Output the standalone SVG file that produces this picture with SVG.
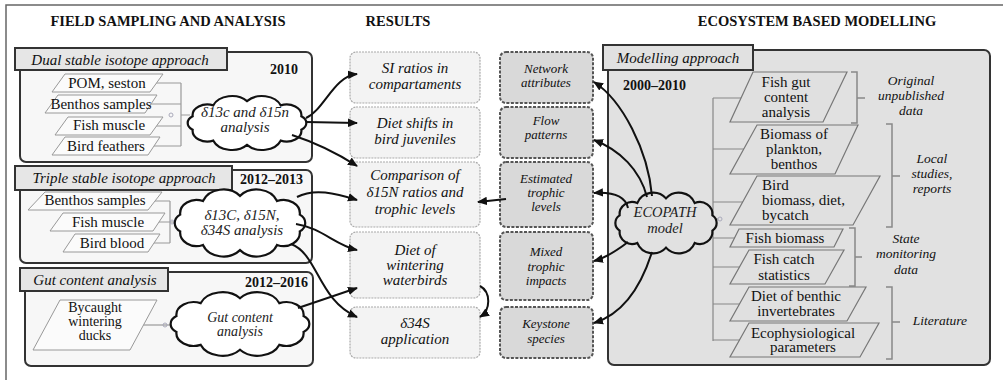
<svg xmlns="http://www.w3.org/2000/svg" xmlns:xlink="http://www.w3.org/1999/xlink" width="1003" height="380" viewBox="0 0 1003 380" font-family="'Liberation Serif', 'Times New Roman', serif">
<style>
text{font-family:"Liberation Serif","Times New Roman",serif;fill:#111}
.hdr{font-weight:bold;font-size:14.5px;text-anchor:middle}
.ttl{font-style:italic;font-size:15px;text-anchor:middle}
.yr{font-weight:bold;font-size:14px}
.pl{font-size:15px;text-anchor:middle}
.cl{font-style:italic;font-size:15px;text-anchor:middle;fill:#222}
.res{font-style:italic;font-size:15px;text-anchor:middle}
.gb{font-style:italic;font-size:13px;text-anchor:middle}
.rp{font-size:15px;text-anchor:middle}
.rpl{font-size:15px}
.br{font-style:italic;font-size:13.5px;text-anchor:middle}
.lbox{fill:#f7f7f7;stroke:#333;stroke-width:2}
.tbox{fill:#e6e6e6;stroke:#333;stroke-width:2}
.lpar{fill:#fbfbfb;stroke:#999;stroke-width:1}
.rpar{fill:#e0e0e0;stroke:#777;stroke-width:1.2}
.res-box{fill:#f3f3f3;stroke:#aaa;stroke-width:1.2;stroke-dasharray:2 1}
.gbox{fill:#d9d9d9;stroke:#555;stroke-width:2;stroke-dasharray:3 1.5}
.thin{fill:none;stroke:#999;stroke-width:1.2}
.brk{fill:none;stroke:#888;stroke-width:1.5}
.dot{fill:none;stroke:#aab;stroke-width:1}
.arr{fill:none;stroke:#111;stroke-width:2;marker-end:url(#ah)}
</style>
<defs>
<marker id="ah" markerWidth="10" markerHeight="10" refX="9" refY="5" orient="auto" markerUnits="userSpaceOnUse">
<path d="M0,0.8 L10,5 L0,9.2 Z" fill="#111"/>
</marker>
<path id="cloud" vector-effect="non-scaling-stroke" stroke="#111" stroke-width="2.2" d="M41.8 7.1 A11.4 11.4 0 0 1 25.9 18.6 A15.3 15.3 0 0 1 0 23 A15.3 15.3 0 0 1 -25.9 18.6 A11.4 11.4 0 0 1 -41.8 7.1 A8.5 8.5 0 0 1 -41.8 -7.1 A11.4 11.4 0 0 1 -25.9 -18.6 A15.3 15.3 0 0 1 0 -23 A15.3 15.3 0 0 1 25.9 -18.6 A11.4 11.4 0 0 1 41.8 -7.1 A8.5 8.5 0 0 1 41.8 7.1 Z"/>
</defs>

<rect width="1003" height="380" fill="#fff"/>
<path d="M6 380 V5 H1003" fill="none" stroke="#666" stroke-width="1.5"/>

<g id="headers">
<text class="hdr" x="168" y="26">FIELD SAMPLING AND ANALYSIS</text>
<text class="hdr" x="398" y="26">RESULTS</text>
<text class="hdr" x="817" y="26">ECOSYSTEM BASED MODELLING</text>
</g>

<!-- Left column -->
<g id="dual-box">
<rect class="lbox" x="20" y="52" width="292" height="110" rx="6"/>
<rect class="tbox" x="15" y="48" width="212" height="22"/>
<text class="ttl" x="120" y="65">Dual stable isotope approach</text>
<text class="yr" x="298" y="74" text-anchor="end">2010</text>
<path class="thin" d="M156 83 H181 M151 104 H181 M156 126 H181 M154 146 H181 M181 83 V146 M181 115 H190"/>
<circle class="dot" cx="171" cy="115" r="2"/>
</g>
<g id="pom"><polygon class="lpar" points="65,74 163,74 150,92 52,92"/><text class="pl" x="107" y="88">POM, seston</text></g>
<g id="benthos1"><polygon class="lpar" points="58,95 157,95 145,113 45,113"/><text class="pl" x="101" y="109">Benthos samples</text></g>
<g id="fish1"><polygon class="lpar" points="68,117 163,117 150,135 55,135"/><text class="pl" x="109" y="130">Fish muscle</text></g>
<g id="feathers"><polygon class="lpar" points="65,137 160,137 148,155 52,155"/><text class="pl" x="106" y="151">Bird feathers</text></g>
<g id="cloud1">
<use xlink:href="#cloud" href="#cloud" fill="#fff" transform="translate(247 123) scale(1.3 0.95)"/>
<text class="cl" x="245" y="117">δ13c and δ15n</text>
<text class="cl" x="245" y="132">analysis</text>
</g>

<g id="triple-box">
<rect class="lbox" x="20" y="170" width="292" height="93" rx="6"/>
<rect class="tbox" x="15" y="166" width="217" height="24"/>
<text class="ttl" x="124" y="183">Triple stable isotope approach</text>
<text class="yr" x="240" y="184">2012–2013</text>
<path class="thin" d="M155 201 H170 M159 222 H178 M154 243 H170 M170 201 V243"/>
<circle class="dot" cx="172" cy="222" r="2"/>
</g>
<g id="benthos2"><polygon class="lpar" points="45,192 162,192 148,210 28,210"/><text class="pl" x="95" y="205">Benthos samples</text></g>
<g id="fish2"><polygon class="lpar" points="63,213 165,213 153,231 50,231"/><text class="pl" x="108" y="227">Fish muscle</text></g>
<g id="blood"><polygon class="lpar" points="75,234 160,234 148,252 63,252"/><text class="pl" x="112" y="248">Bird blood</text></g>
<g id="cloud2">
<use xlink:href="#cloud" href="#cloud" fill="#fff" transform="translate(240 223) scale(1.43 1.18)"/>
<text class="cl" x="242" y="220">δ13C, δ15N,</text>
<text class="cl" x="242" y="235">δ34S analysis</text>
</g>

<g id="gut-box">
<rect class="lbox" x="25" y="272" width="288" height="94" rx="6"/>
<rect class="tbox" x="20" y="268" width="148" height="23"/>
<text class="ttl" x="95" y="285">Gut content analysis</text>
<text class="yr" x="245" y="287">2012–2016</text>
<path class="thin" d="M143 325 H172"/>
<circle class="dot" cx="165" cy="325" r="2"/>
</g>
<g id="ducks"><polygon class="lpar" points="60,300 157,300 130,350 33,350"/>
<text class="pl" x="95" y="312" style="font-size:14px">Bycaught</text><text class="pl" x="95" y="326" style="font-size:14px">wintering</text><text class="pl" x="95" y="340" style="font-size:14px">ducks</text></g>
<g id="cloud3">
<use xlink:href="#cloud" href="#cloud" fill="#fff" transform="translate(240 324) scale(1.52 1.12)"/>
<text class="cl" x="240" y="322" style="font-size:14px">Gut content</text>
<text class="cl" x="240" y="336" style="font-size:14px">analysis</text>
</g>

<!-- Results column -->
<g id="res-si"><rect class="res-box" x="350" y="52" width="130" height="51" rx="6"/>
<text class="res" x="415" y="73">SI ratios in</text><text class="res" x="415" y="89">compartaments</text></g>
<g id="res-shift"><rect class="res-box" x="350" y="107" width="130" height="51" rx="6"/>
<text class="res" x="415" y="128">Diet shifts in</text><text class="res" x="415" y="144">bird juveniles</text></g>
<g id="res-comp"><rect class="res-box" x="350" y="162" width="130" height="65" rx="6"/>
<text class="res" x="415" y="180">Comparison of</text><text class="res" x="415" y="197">δ15N ratios and</text><text class="res" x="415" y="214">trophic levels</text></g>
<g id="res-winter"><rect class="res-box" x="350" y="232" width="130" height="66" rx="6"/>
<text class="res" x="415" y="255">Diet of</text><text class="res" x="415" y="270">wintering</text><text class="res" x="415" y="285">waterbirds</text></g>
<g id="res-s34"><rect class="res-box" x="350" y="307" width="130" height="51" rx="6"/>
<text class="res" x="415" y="328">δ34S</text><text class="res" x="415" y="344">application</text></g>

<!-- Model outputs -->
<g id="out-network"><rect class="gbox" x="500" y="52" width="93" height="51" rx="6"/>
<text class="gb" x="546" y="73">Network</text><text class="gb" x="546" y="87">attributes</text></g>
<g id="out-flow"><rect class="gbox" x="500" y="107" width="93" height="51" rx="6"/>
<text class="gb" x="546" y="125">Flow</text><text class="gb" x="546" y="139">patterns</text></g>
<g id="out-trophic"><rect class="gbox" x="500" y="162" width="93" height="65" rx="6"/>
<text class="gb" x="546" y="183">Estimated</text><text class="gb" x="546" y="197">trophic</text><text class="gb" x="546" y="211">levels</text></g>
<g id="out-mixed"><rect class="gbox" x="500" y="232" width="93" height="68" rx="6"/>
<text class="gb" x="546" y="256">Mixed</text><text class="gb" x="546" y="271">trophic</text><text class="gb" x="546" y="285">impacts</text></g>
<g id="out-keystone"><rect class="gbox" x="500" y="307" width="93" height="51" rx="6"/>
<text class="gb" x="546" y="328">Keystone</text><text class="gb" x="546" y="343">species</text></g>

<!-- Right column -->
<g id="model-box">
<rect x="608" y="50" width="382" height="315" rx="6" fill="#e1e1e1" stroke="#333" stroke-width="2"/>
<rect class="tbox" x="603" y="45" width="150" height="25" style="fill:#e1e1e1"/>
<text class="ttl" x="678" y="63">Modelling approach</text>
<text class="yr" x="623" y="90">2000–2010</text>
<path class="thin" style="stroke:#888" d="M713 98 V341 M713 98 H760 M713 149 H760 M713 202 H760 M713 238 H760 M713 267 H760 M713 304 H760 M713 340 H760 M713 219 H718"/>
<circle class="dot" cx="720" cy="219" r="2"/>
<path class="brk" d="M851 72 H857 V123 H851 M857 98 H865"/>
<path class="brk" d="M886 124 H892 V227 H886 M892 176 H900"/>
<path class="brk" d="M849 228 H855 V286 H849 M855 257 H862"/>
<path class="brk" d="M886 287 H892 V359 H886 M892 322 H900"/>
<text class="br" x="911" y="85">Original</text><text class="br" x="911" y="100">unpublished</text><text class="br" x="911" y="115">data</text>
<text class="br" x="932" y="163">Local</text><text class="br" x="932" y="178">studies,</text><text class="br" x="932" y="193">reports</text>
<text class="br" x="906" y="243">State</text><text class="br" x="906" y="258">monitoring</text><text class="br" x="906" y="274">data</text>
<text class="br" x="940" y="325">Literature</text>
</g>
<g id="src-gut"><polygon class="rpar" points="753,72 847,72 823,122 730,122"/>
<text class="rp" x="786" y="87">Fish gut</text><text class="rp" x="786" y="102">content</text><text class="rp" x="786" y="117">analysis</text></g>
<g id="src-plankton"><polygon class="rpar" points="757,125 858,125 835,174 730,174"/>
<text class="rp" x="794" y="139">Biomass of</text><text class="rp" x="794" y="154">plankton,</text><text class="rp" x="794" y="169">benthos</text></g>
<g id="src-bird"><polygon class="rpar" points="757,176 880,176 853,225 730,225"/>
<text class="rpl" x="762" y="190">Bird</text><text class="rpl" x="762" y="205">biomass, diet,</text><text class="rpl" x="762" y="220">bycatch</text></g>
<g id="src-fishbio"><polygon class="rpar" points="739,229 843,229 834,247 730,247"/>
<text class="rp" x="785" y="243">Fish biomass</text></g>
<g id="src-catch"><polygon class="rpar" points="749,250 844,250 825,284 730,284"/>
<text class="rp" x="784" y="264">Fish catch</text><text class="rp" x="784" y="280">statistics</text></g>
<g id="src-benthic"><polygon class="rpar" points="749,287 866,287 847,321 730,321"/>
<text class="rp" x="796" y="301">Diet of benthic</text><text class="rp" x="796" y="316">invertebrates</text></g>
<g id="src-eco"><polygon class="rpar" points="749,323 879,323 860,357 730,357"/>
<text class="rp" x="803" y="338">Ecophysiological</text><text class="rp" x="803" y="352">parameters</text></g>
<g id="ecopath">
<use xlink:href="#cloud" href="#cloud" fill="#e1e1e1" transform="translate(666 223) scale(1.11 1.07)"/>
<text class="cl" x="665" y="217" style="font-size:14.5px">ECOPATH</text>
<text class="cl" x="665" y="233" style="font-size:14.5px">model</text>
</g>

<g id="connectors">
<path class="arr" d="M306 118 C324 110,334 76,357 74"/>
<path class="arr" d="M306 122 L357 123"/>
<path class="arr" d="M292 135 Q326 146,357 166"/>
<path class="arr" d="M297 197 C314 188,335 193,357 200"/>
<path class="arr" d="M296 224 C322 228,335 245,357 250"/>
<path class="arr" d="M291 244 C318 254,318 300,357 317"/>
<path class="arr" d="M298 308 L357 288"/>
<path class="arr" d="M480 286 C491 292,491 310,480 317"/>
<path class="arr" d="M506 199 L478 202"/>
<path class="arr" d="M652 196 C648 150,622 100,594 82"/>
<path class="arr" d="M647 197 C640 170,620 150,594 140"/>
<path class="arr" d="M628 208 C625 195,610 192,594 193"/>
<path class="arr" d="M628 242 C615 252,605 258,594 261"/>
<path class="arr" d="M652 252 C640 290,620 315,594 323"/>
</g>
</svg>
